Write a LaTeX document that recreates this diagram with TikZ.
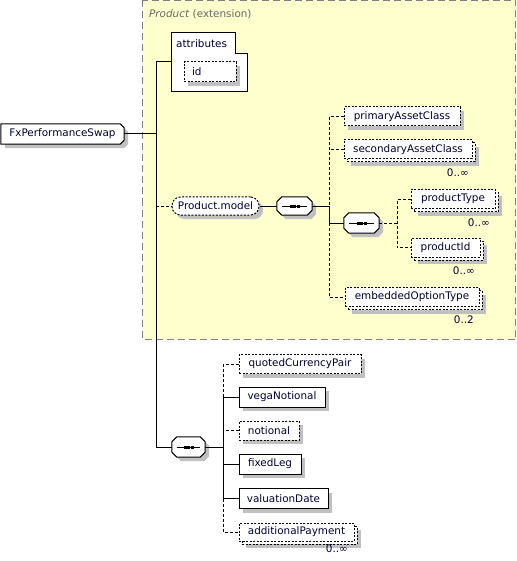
\documentclass[tikz,border=0pt]{standalone}
\usepackage{fontspec}
\setmainfont{DejaVu Sans}
\usetikzlibrary{shadows}
\definecolor{bgyellow}{RGB}{255,255,206}
\definecolor{shgray}{RGB}{192,192,192}
\definecolor{frgray}{RGB}{128,128,128}
\definecolor{ttlgray}{RGB}{104,104,104}
\definecolor{ink}{RGB}{0,0,48}
\pgfdeclarelayer{back}
\pgfdeclarelayer{outl}
\pgfsetlayers{back,outl,main}
\tikzset{
  txt/.style={font=\fontsize{10.4}{12}\selectfont, text=ink},
  shad/.style={general shadow={fill=shgray, shadow xshift=4pt, shadow yshift=-4pt}},
  multi/.style={general shadow={fill=shgray, shadow xshift=7pt, shadow yshift=-7pt},
                general shadow={fill=white, draw=black, line width=1pt, dash pattern=on 2pt off 1.5pt, shadow xshift=3pt, shadow yshift=-3pt}},
  box/.style={txt, rectangle, draw=black, fill=white, line width=1pt, inner sep=0pt, minimum height=19pt},
  opt/.style={dash pattern=on 2pt off 1.5pt},
  seqbox/.style={rectangle, inner sep=0pt, minimum width=35pt, minimum height=19pt},
  outline/.style={draw=black, fill=white, line width=1pt, shad},
  conn/.style={line width=1pt},
  oconn/.style={line width=1pt, dash pattern=on 3pt off 2pt},
  mult/.style={txt, anchor=east, inner sep=0pt}
}
\begin{document}
\begin{tikzpicture}[x=1pt,y=-1pt]
\useasboundingbox (0,0) rectangle (516,561);
% extension area
\begin{pgfonlayer}{back}
\path[fill=bgyellow, draw=frgray, line width=1pt, dash pattern=on 7pt off 4pt] (142.5,0.5) rectangle (515.5,339.5);
\end{pgfonlayer}
\node[txt, anchor=west, text=ttlgray, inner sep=0pt] (ttl) at (149,14) {\textit{Product} (extension)};

% root
\node[txt, rectangle, inner sep=0pt, minimum width=123pt, minimum height=20pt] (fx) at (62.5,134) {FxPerformanceSwap};
\begin{pgfonlayer}{outl}
\draw[outline] (fx.north west) -- ([xshift=-4pt]fx.north east) -- ([yshift=-4pt]fx.north east)
   -- ([yshift=4pt]fx.south east) -- ([xshift=-4pt]fx.south east) -- (fx.south west) -- cycle;
\end{pgfonlayer}

% attributes
\draw[fill=white, line width=1pt] (171,33) -- (235,33) -- (235,54) -- (247,54) -- (247,92) -- (171,92) -- cycle;
\node[txt, anchor=west, inner sep=0pt] (attr) at (176,43.5) {attributes};
\coordinate (attrw) at (171,62);
\node[box, opt, shad, minimum width=52pt, minimum height=20pt, text width=36pt, inner xsep=8pt, align=left] (id) at (210,72) {id};

% Product.model
\node[box, opt, shad, rounded corners=8.5pt, minimum width=87pt, minimum height=18pt] (pm) at (215.5,206) {Product.model};
\node[seqbox, minimum height=18pt] (s1) at (294.5,206) {};
\node[seqbox, minimum height=20pt] (s2) at (361.5,223) {};

\node[box, opt, shad, minimum width=116pt] (pac) at (402,116.5) {primaryAssetClass};
\node[box, opt, multi, minimum width=128pt] (sac) at (408,149.5) {secondaryAssetClass};
\node[box, opt, multi, minimum width=84pt] (pt) at (453,199) {productType};
\node[box, opt, multi, minimum width=69pt] (pid) at (445.5,247.5) {productId};
\node[box, opt, multi, minimum width=134pt] (eot) at (412,297) {embeddedOptionType};

\node[mult] (m1) at (469,173) {0..∞};
\node[mult] (m2) at (490,222.5) {0..∞};
\node[mult] (m3) at (475,270.5) {0..∞};
\node[mult] (m4) at (474,320) {0..2};

% bottom sequence
\node[seqbox, minimum width=33pt, minimum height=20pt] (s3) at (188.5,447) {};
\node[box, opt, shad, minimum width=122pt] (qcp) at (300,364) {quotedCurrencyPair};
\node[box, shad, minimum width=86pt, minimum height=20pt] (vn) at (282,397) {vegaNotional};
\node[box, opt, shad, minimum width=60pt] (no) at (269,430.5) {notional};
\node[box, shad, minimum width=62pt, minimum height=20pt] (fl) at (270,464) {fixedLeg};
\node[box, shad, minimum width=89pt, minimum height=20pt] (vd) at (283.5,498.5) {valuationDate};
\node[box, opt, multi, minimum width=115pt, minimum height=18pt] (ap) at (296.5,532) {additionalPayment};
\node[mult] (m5) at (348,549) {0..∞};

% sequence octagons and icons
\begin{pgfonlayer}{outl}
\foreach \s in {s1,s2,s3}{
  \draw[outline] ([xshift=5pt]\s.north west) -- ([xshift=-5pt]\s.north east) -- ([yshift=-5pt]\s.north east)
     -- ([yshift=5pt]\s.south east) -- ([xshift=-5pt]\s.south east) -- ([xshift=5pt]\s.south west)
     -- ([yshift=5pt]\s.south west) -- ([yshift=-5pt]\s.north west) -- cycle;
}
\end{pgfonlayer}
\foreach \s in {s1,s2,s3}{
  \draw[conn] ([xshift=5pt]\s.west) -- ([xshift=-5pt]\s.east);
  \foreach \d in {-5,-1.5,2}{
    \fill ([shift={(\d pt,-1.5pt)}]\s.center) rectangle +(3pt,3pt);
  }
}

% junction coordinates
\coordinate (j0) at (156,62);
\coordinate (j0b) at (156,447);
\coordinate (j1) at (329,116);
\coordinate (j2) at (397,199);
\coordinate (j3) at (223,364);

% connectors
\draw[conn] (fx.east) -- (fx.east -| j0);
\draw[conn] (attrw) -- (j0) -- (j0b) -- (s3.west);
\draw[oconn] (pm.west -| j0) -- (pm.west);
\draw[conn] (pm.east) -- (s1.west);
\draw[conn] (s1.east) -- (s1.east -| j1) -- (s2.west -| j1) -- (s2.west);
\draw[oconn] (pac.west) -- (pac.west -| j1) -- (s1.east -| j1);
\draw[oconn] (sac.west) -- (sac.west -| j1);
\draw[oconn] (s2.west -| j1) -- (eot.west -| j1) -- (eot.west);
\draw[oconn] (s2.east) -- (s2.east -| j2);
\draw[oconn] (pt.west) -- (pt.west -| j2) -- (pid.west -| j2) -- (pid.west);

\draw[conn] (s3.east) -- (s3.east -| j3);
\draw[oconn] (qcp.west) -- (qcp.west -| j3) -- (vn.west -| j3);
\draw[conn] (vn.west) -- (vn.west -| j3) -- (vd.west -| j3) -- (vd.west);
\draw[conn] (fl.west) -- (fl.west -| j3);
\draw[oconn] (no.west) -- (no.west -| j3);
\draw[oconn] (vd.west -| j3) -- (ap.west -| j3) -- (ap.west);
\end{tikzpicture}
\end{document}
